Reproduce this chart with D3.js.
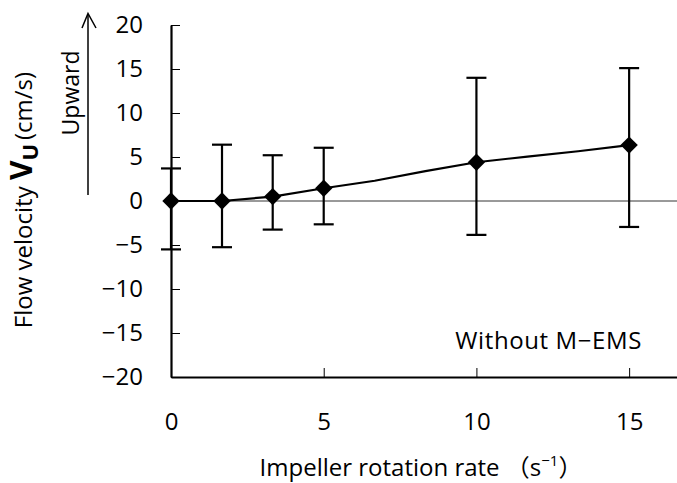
<!DOCTYPE html>
<html>
<head>
<meta charset="utf-8">
<script src="https://cdn.jsdelivr.net/npm/d3@7"></script>
<style>
  body { margin: 0; background: #fff; }
  svg { display: block; font-family: "Open Sans", "Noto Sans CJK JP", sans-serif; }
  .tick text { font-family: "Open Sans", sans-serif; font-size: 24px; fill: #000; }
</style>
</head>
<body>
<div id="chart"></div>
<script>
// rotation rate (1/s) where the markers sit
const rates = [0, 1.67, 3.33, 5, 10, 15];
// mean flow velocity (cm/s)
const velocity = [0, 0, 0.5, 1.45, 4.4, 6.35];
const errHigh = [3.7, 6.4, 5.2, 6.05, 14.0, 15.1];
const errLow = [-5.5, -5.25, -3.25, -2.65, -3.85, -2.95];
// the line also goes through intermediate rates that carry no marker
const lineRates = [0, 1.67, 3.33, 5, 6.67, 8.33, 10, 11.67, 13.33, 15];
const lineVel = [0, 0, 0.5, 1.45, 2.3, 3.4, 4.4, 5.05, 5.65, 6.35];
const xTicks = [0, 5, 10, 15];
const yTicks = [-20, -15, -10, -5, 0, 5, 10, 15, 20];

const W = 677, H = 483;
const MARGIN_LEFT = 171, MARGIN_TOP = 25, MARGIN_BOTTOM = 106;

const svg = d3.select('#chart').append('svg')
  .attr('width', W).attr('height', H);

const x = d3.scaleLinear().domain([0, 16.6]).range([MARGIN_LEFT, W + 1]);
const y = d3.scaleLinear().domain([-20, 20]).range([H - MARGIN_BOTTOM, MARGIN_TOP]);

// zero line
svg.append('line')
  .attr('x1', x(0)).attr('x2', W)
  .attr('y1', y(0)).attr('y2', y(0))
  .attr('stroke', '#000').attr('stroke-width', 0.8);

// axes
const $yAxis = svg.append('g')
  .attr('transform', `translate(${x(0)},0)`)
  .call(d3.axisLeft(y).tickValues(yTicks).tickSize(-9).tickPadding(28).tickSizeOuter(0));
const $xAxis = svg.append('g')
  .attr('transform', `translate(0,${y(-20)})`)
  .call(d3.axisBottom(x).tickValues(xTicks).tickSize(-9).tickPadding(36).tickSizeOuter(0));
[$yAxis, $xAxis].forEach(g => {
  g.select('.domain').attr('stroke', '#000').attr('stroke-width', 2.2);
  g.selectAll('.tick line').attr('stroke', '#000').attr('stroke-width', 1);
});

// line
const line = d3.line().x((d, i) => x(lineRates[i])).y(d => y(d));
svg.append('path')
  .datum(lineVel)
  .attr('d', line)
  .attr('fill', 'none').attr('stroke', '#000').attr('stroke-width', 2.2)
  .attr('stroke-linejoin', 'round');

// error bars
const err = svg.append('g').attr('stroke', '#000').attr('stroke-width', 2.2);
rates.forEach((r, i) => {
  err.append('line')
    .attr('x1', x(r)).attr('x2', x(r))
    .attr('y1', y(errHigh[i])).attr('y2', y(errLow[i]));
  [errHigh[i], errLow[i]].forEach(v => {
    err.append('line')
      .attr('x1', x(r) - 10).attr('x2', x(r) + 10)
      .attr('y1', y(v)).attr('y2', y(v));
  });
});

// diamond markers
const diamond = d3.symbol(d3.symbolSquare, 150);
svg.append('g').selectAll('path')
  .data(rates)
  .join('path')
  .attr('d', diamond)
  .attr('transform', (d, i) => `translate(${x(d)},${y(velocity[i])}) rotate(45)`)
  .attr('fill', '#000');

// legend text
svg.append('text')
  .attr('x', 642).attr('y', 349)
  .attr('text-anchor', 'end')
  .attr('font-size', 24)
  .attr('letter-spacing', 0.6)
  .text('Without M\u2212EMS');

// x title
const xt = svg.append('text')
  .attr('x', 421).attr('y', 476)
  .attr('text-anchor', 'middle')
  .attr('font-size', 24);
xt.append('tspan').text('Impeller rotation rate \uFF08s');
xt.append('tspan').attr('font-size', 15).attr('dy', -10).text('\u22121');
xt.append('tspan').attr('dy', 10).text('\uFF09');

// y title
const yt = svg.append('text')
  .attr('transform', 'translate(32,200) rotate(-90)')
  .attr('text-anchor', 'middle')
  .attr('font-size', 24);
yt.append('tspan').text('Flow velocity ');
yt.append('tspan').attr('font-weight', 'bold').attr('font-size', 30).text('V');
yt.append('tspan').attr('font-weight', 'bold').attr('font-size', 22).attr('dy', 6).text('U');
yt.append('tspan').attr('dy', -6).text('\u2009(cm/s)');

// upward arrow
svg.append('text')
  .attr('transform', 'translate(79,93) rotate(-90)')
  .attr('text-anchor', 'middle')
  .attr('font-size', 23)
  .text('Upward');
svg.append('line')
  .attr('x1', 88).attr('x2', 88).attr('y1', 195).attr('y2', 14)
  .attr('stroke', '#000').attr('stroke-width', 1.5);
svg.append('path')
  .attr('d', 'M82,28 L88,13.5 L96,28')
  .attr('fill', 'none').attr('stroke', '#000').attr('stroke-width', 1.5);
</script>
</body>
</html>
